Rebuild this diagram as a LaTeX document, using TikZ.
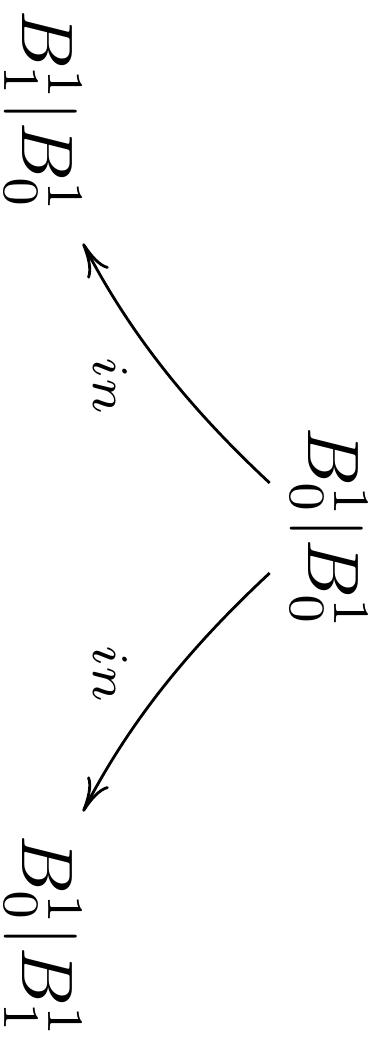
\documentclass[tikz,border=0pt]{standalone}
\usetikzlibrary{arrows.meta,calc}
\begin{document}
\begin{tikzpicture}[x=0.5pt,y=-0.5pt,
  lbl/.style={rotate=-90,inner sep=0pt,scale=3.65},
  elbl/.style={rotate=-90,inner sep=0pt,scale=3.65,font=\scriptsize},
  arr/.style={line width=1.4pt,-{To[length=17pt,width=12pt]}}]
\useasboundingbox (0,0) rectangle (377,1046);
\node[lbl] (top) at (43,112) {$B_1^1|B_0^1$};
\node[lbl] (mid) at (329,529) {$B_0^1|B_0^1$};
\node[lbl] (bot) at (43,937) {$B_0^1|B_1^1$};
\draw[arr] ($(mid.south)+(-19,-46)$) .. controls +(-77,-71.8) and +(48.4,93.6) .. ($(top.east)+(40,28)$);
\draw[arr] ($(mid.south)+(-19,44)$) .. controls +(-77,71.8) and +(48.4,-93.6) .. ($(bot.west)+(40,-22)$);
\node[elbl] (l1) at (110,386) {$in$};
\node[elbl] (l2) at (110,674) {$in$};
\end{tikzpicture}
\end{document}
